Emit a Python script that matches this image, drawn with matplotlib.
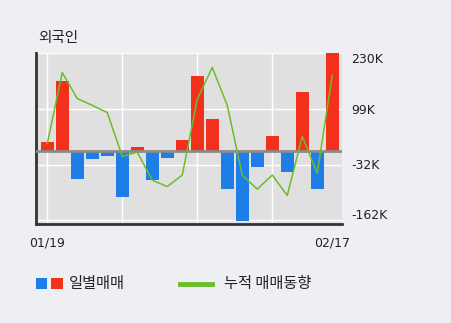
import matplotlib
matplotlib.use("Agg")
import matplotlib.pyplot as plt
from matplotlib.patches import Rectangle
from matplotlib.lines import Line2D
import numpy as np

plt.rcParams['font.family'] = ['Noto Sans CJK KR', 'DejaVu Sans']

dates = ["01/19", "", "", "", "", "", "", "", "", "", "", "", "", "", "", "", "", "", "", "02/17"]
daily = [22, 166, -65, -19, -12, -107, 10, -67, -15, 27, 177, 77, -88, -163, -36, 35, -48, 140, -88, 232]
cumulative = [18, 185, 124, 108, 91, -12, -2, -68, -83, -56, 122, 197, 108, -56, -89, -56, -104, 35, -52, 179]
yticks = [230, 99, -32, -162]
ytick_labels = ["230K", "99K", "-32K", "-162K"]
title = "외국인"
legend_bar = "일별매매"
legend_line = "누적 매매동향"

RED = "#f2301c"
BLUE = "#1f7de8"
GREEN = "#6bbd2a"
BG = "#eeeff3"
PLOT_BG = "#e0e0e0"

W, H = 451, 323
fig = plt.figure(figsize=(W / 100, H / 100), dpi=100, facecolor=BG)
ax = fig.add_axes([36 / W, (H - 224) / H, (342 - 36) / W, (224 - 53) / H])
ax.set_facecolor(PLOT_BG)

x = np.arange(len(daily))
colors = [RED if v >= 0 else BLUE for v in daily]
ax.bar(x, daily, width=0.86, color=colors, zorder=3)
ax.plot(x, cumulative, color=GREEN, lw=1.1, zorder=4)
ax.axhline(0, color="#8a8a8a", lw=2.0, zorder=3.5)

ax.set_xlim(-0.75, len(daily) - 1 + 0.65)
ax.set_ylim(-171, 231)

for gx in [0, 5, 10, 15]:
    ax.axvline(gx, color="white", lw=1.0, zorder=1)
for gy in yticks:
    ax.axhline(gy, color="white", lw=1.0, zorder=1)

# y tick labels (right side); outer labels sit slightly inside the plot range
label_offsets_px = [6, 1, 0.5, -5]
ax.set_yticks([])
for val, lab, off in zip(yticks, ytick_labels, label_offsets_px):
    ypix = ax.transData.transform((0, val))[1] - off
    yfig = ypix / H
    fig.text(351.5 / W, yfig, lab, fontsize=9, color="#222222", va="center", ha="left",
             family=['DejaVu Sans'])

ax.set_xticks([0, len(daily) - 1])
ax.set_xticklabels([dates[0], dates[-1]], fontsize=9, color="#222222", family=['DejaVu Sans'])
ax.tick_params(axis='x', length=0, pad=9)

for s in ["top", "right"]:
    ax.spines[s].set_visible(False)
for s in ["left", "bottom"]:
    ax.spines[s].set_color("#333333")
    ax.spines[s].set_linewidth(2.0)

fig.text(38 / W, 1 - 38 / H, title, fontsize=10.5, color="#222222", va="center", ha="left")

# legend
fig.patches.append(Rectangle((36 / W, 1 - 289 / H), 10.5 / W, 11 / H, transform=fig.transFigure,
                             facecolor=BLUE, edgecolor="none"))
fig.patches.append(Rectangle((51 / W, 1 - 289 / H), 11.5 / W, 11 / H, transform=fig.transFigure,
                             facecolor=RED, edgecolor="none"))
fig.text(69 / W, 1 - 283.5 / H, legend_bar, fontsize=11, color="#222222", va="center", ha="left")
fig.lines.append(Line2D([180 / W, 212 / W], [1 - 283.5 / H, 1 - 283.5 / H], transform=fig.transFigure,
                        color=GREEN, lw=3.5))
fig.text(224 / W, 1 - 283.5 / H, legend_line, fontsize=11, color="#222222", va="center", ha="left")

fig.savefig("out.png", dpi=100, facecolor=BG)
